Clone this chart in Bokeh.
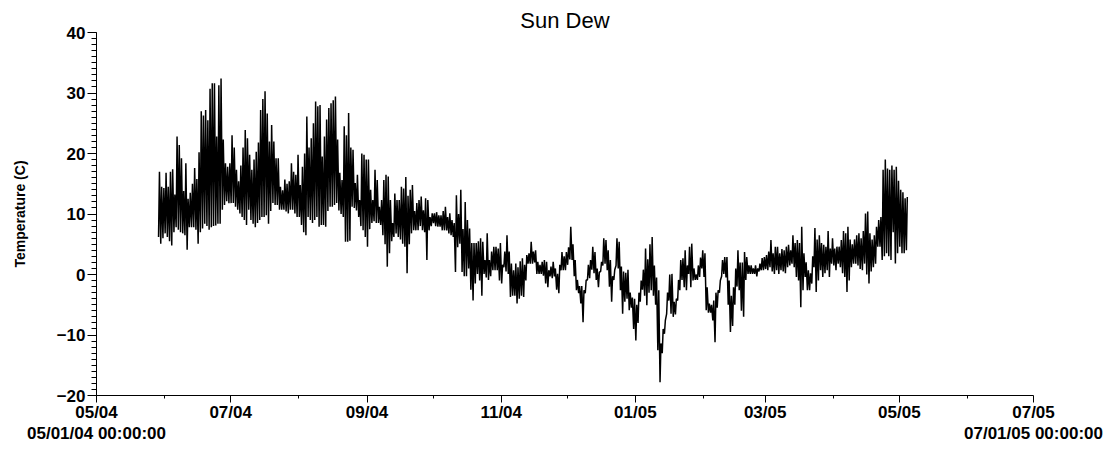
import datetime as dt
from bokeh.plotting import figure
from bokeh.models import (FixedTicker, SingleIntervalTicker, DatetimeAxis,
                          Range1d, ColumnDataSource)
from bokeh.embed import file_html
from bokeh.resources import INLINE

TITLE = "Sun Dew"
Y_LABEL = "Temperature (C)"

# Daily high / low dew-point readings (deg C)
hi_may04 = [17.0, 14.5, 14.3]
lo_may04 = [6.2, 5.1, 6.0]
hi_jun04 = [16.8, 14.5, 17.0, 17.4, 13.2, 22.8, 21.4, 19.2, 13.8, 18.4, 12.5, 13.5, 15.0, 17.6, 15.8,
            20.2, 27.0, 26.3, 27.2, 25.5, 30.7, 31.6, 31.6, 22.8, 31.3, 32.4, 22.3, 18.4, 17.8, 18.4]
lo_jun04 = [6.8, 6.2, 5.5, 4.8, 7.0, 7.8, 7.4, 7.0, 6.8, 6.5, 4.1, 7.8, 7.8, 7.8, 7.4,
            5.1, 7.0, 7.6, 8.4, 8.0, 7.4, 7.8, 8.0, 8.1, 8.4, 8.4, 10.7, 11.5, 12.1, 11.8]
hi_jul04 = [23.0, 21.0, 17.3, 15.4, 18.0, 21.0, 23.9, 22.5, 19.8, 17.3, 19.0, 20.3, 21.8, 27.2, 29.0, 30.3,
            26.6, 22.0, 24.7, 22.0, 19.2, 19.2, 14.5, 13.9, 15.7, 15.0, 15.4, 18.4, 17.0, 16.5, 19.8]
lo_jul04 = [11.8, 11.8, 11.2, 10.7, 10.1, 9.5, 9.0, 8.2, 10.7, 9.0, 8.4, 7.8, 8.5, 9.0, 9.5, 9.5,
            9.8, 8.4, 10.5, 11.8, 11.5, 11.5, 10.7, 10.7, 10.7, 10.4, 10.1, 10.7, 10.7, 10.1, 9.5]
hi_aug04 = [14.8, 17.8, 20.0, 26.1, 21.0, 22.5, 25.0, 28.6, 27.8, 28.0, 19.5, 22.8, 25.6, 27.5, 28.3, 28.8,
            29.4, 22.3, 16.8, 15.6, 24.5, 23.0, 26.7, 21.0, 20.6, 15.1, 16.5, 12.3, 20.0, 19.8, 19.0]
lo_aug04 = [9.5, 8.2, 7.0, 6.5, 9.5, 9.0, 8.5, 9.0, 9.5, 7.9, 8.2, 8.2, 7.9, 10.5, 11.2, 11.2,
            11.5, 11.8, 10.6, 10.0, 9.5, 5.4, 5.4, 5.6, 11.2, 11.0, 10.6, 9.5, 8.0, 7.3, 6.2]
hi_sep04 = [19.0, 14.0, 12.3, 17.3, 15.6, 11.2, 12.3, 15.6, 16.5, 16.2, 12.3, 8.5, 13.4, 12.3, 12.3,
            14.5, 14.2, 16.1, 13.0, 14.0, 14.8, 10.5, 11.8, 12.3, 12.9, 10.6, 12.6, 12.3, 9.5, 10.1]
lo_sep04 = [4.6, 7.5, 8.5, 8.8, 8.5, 8.5, 8.2, 6.5, 5.0, 1.3, 3.5, 5.5, 6.2, 6.8, 6.2,
            5.8, 5.1, 4.6, 0.2, 5.0, 6.8, 7.3, 7.3, 7.3, 8.0, 7.3, 7.0, 2.4, 7.3, 8.0]
hi_oct04 = [10.1, 10.3, 9.8, 9.8, 10.5, 11.2, 9.5, 10.1, 9.0, 8.5, 13.1, 10.0, 14.0, 7.5, 12.0, 9.0,
            7.6, 5.2, 5.2, 5.2, 5.5, 6.0, 5.4, 2.4, 6.8, 2.4, 3.8, 4.6, 4.6, 4.3, 5.2]
lo_oct04 = [8.5, 8.0, 7.9, 7.9, 7.3, 7.3, 7.3, 6.8, 6.5, 6.2, 0.4, 4.5, 5.1, 0.4, -0.3, -0.3,
            1.0, -2.5, -4.3, -1.5, 0.1, -1.0, -3.5, 0.1, -0.5, -0.9, -0.3, 0.7, 0.7, 0.7, -1.0]
hi_nov04 = [1.6, 3.8, 6.5, 3.8, 1.8, 0.7, 1.8, 1.2, 2.2, 2.7, 1.6, 3.2, 3.5, 5.4, 3.8,
            4.0, 2.1, 1.6, 2.1, 2.4, 2.1, 0.7, 1.3, 2.1, 1.0, 0.1, 1.6, 3.7, 3.0, 3.7]
lo_nov04 = [-1.5, 1.2, 0.5, 0.1, -3.7, -3.5, -3.5, -4.8, -4.0, -3.5, -3.7, -1.0, 1.8, 1.8, 1.8,
            2.0, 0.1, 0.1, 0.1, -0.2, -1.5, -2.1, -0.3, -0.6, -0.3, -2.5, -3.1, 0.7, 0.7, 0.7]
hi_dec04 = [4.5, 7.9, 5.0, 2.4, -0.9, -1.9, -1.9, -2.6, -0.9, 1.6, 2.4, 4.6, 3.7, 1.0, 0.4, 2.1,
            6.0, 5.7, 4.0, 2.4, -0.3, 0.8, 6.0, 5.4, 1.3, 0.5, 0.3, 0.8, -3.0, -3.8, -4.0]
lo_dec04 = [1.6, 2.5, 2.4, -0.3, -2.6, -3.1, -4.8, -7.9, -3.1, -0.9, -0.6, 0.8, 0.2, -0.9, -2.1, 0.5,
            1.5, 1.8, 0.7, -2.0, -4.5, -0.9, 1.5, 1.0, -2.6, -6.5, -4.5, -4.0, -5.9, -5.5, -9.0]
hi_jan05 = [-5.0, -3.0, -1.0, 0.8, 4.3, 2.5, 5.0, 6.2, 1.5, -0.5, -2.6, -11.4, -9.0, -7.6, -3.0, 0.0,
            0.1, -4.5, -4.0, -0.9, 2.4, 2.7, 4.0, 1.5, 4.6, 5.1, 1.0, 0.0, 1.5, 2.8, 4.0]
lo_jan05 = [-10.9, -8.0, -4.5, -2.5, -3.5, -5.1, -3.0, -2.6, -3.5, -5.0, -12.5, -17.8, -13.0, -9.8, -6.5, -4.3,
            -6.5, -7.0, -6.6, -4.3, -2.6, -0.9, -2.1, -2.6, 0.1, -2.1, -1.0, -0.9, -0.9, -0.4, 1.0]
hi_feb05 = [3.5, -2.1, -4.8, -5.0, -4.3, -3.0, -2.6, -1.0, 2.4, 2.9, 2.9, -1.0, -3.5, -2.1,
            1.0, 4.0, 2.0, 2.0, 3.7, 2.9, 1.5, 1.5, 1.0, 1.5, 1.0, 1.8, 2.7, 2.9]
lo_feb05 = [-0.4, -5.9, -6.3, -6.3, -7.6, -11.2, -5.5, -3.0, -0.3, 0.1, -0.5, -5.0, -9.5, -8.5,
            -5.0, -2.0, -2.6, -6.0, -7.0, -0.9, 0.1, 0.1, 0.1, 0.1, -0.3, 0.5, 0.7, 0.7]
hi_mar05 = [3.2, 3.8, 5.7, 3.5, 4.6, 4.6, 3.5, 4.2, 4.0, 4.6, 4.9, 4.0, 6.5, 5.2, 5.7, 5.2,
            7.9, 3.5, 2.0, 0.7, 0.2, 3.0, 7.7, 5.8, 6.5, 5.2, 4.9, 4.6, 7.2, 4.3, 6.0]
lo_mar05 = [0.9, 0.7, 1.2, 0.5, 0.1, 0.7, 0.1, 0.7, 0.5, 0.2, 1.2, 1.5, 1.8, 1.2, -0.4, -1.0,
            -5.4, -2.6, -0.4, -2.6, -2.6, -1.5, 1.2, -2.9, -1.0, 0.7, -0.4, 0.2, 0.7, -0.4, 1.8]
hi_apr05 = [4.3, 4.6, 4.6, 5.7, 7.2, 6.8, 7.9, 5.8, 5.0, 5.8, 6.5, 6.8, 6.0, 7.2, 10.1,
            10.4, 6.8, 5.8, 6.5, 7.9, 9.0, 9.5, 17.3, 19.0, 17.5, 17.3, 18.0, 17.3, 17.8, 15.5]
lo_apr05 = [1.5, 0.7, 1.8, 1.2, 0.2, -0.4, -2.9, -1.0, 1.2, 1.8, 1.8, 1.5, 0.9, 0.7, 1.8,
            0.0, -1.5, 0.5, 1.2, 1.8, 4.6, 4.6, 2.4, 3.0, 3.5, 3.0, 2.4, 7.0, 1.8, 3.5]
hi_may05 = [14.0, 13.6, 12.6, 12.8]
lo_may05 = [4.6, 3.5, 3.5, 4.0]

# first day covered by each month's lists
month_starts = [dt.datetime(2004, 5, 29), dt.datetime(2004, 6, 1), dt.datetime(2004, 7, 1),
                dt.datetime(2004, 8, 1), dt.datetime(2004, 9, 1), dt.datetime(2004, 10, 1),
                dt.datetime(2004, 11, 1), dt.datetime(2004, 12, 1), dt.datetime(2005, 1, 1),
                dt.datetime(2005, 2, 1), dt.datetime(2005, 3, 1), dt.datetime(2005, 4, 1),
                dt.datetime(2005, 5, 1)]
month_highs = [hi_may04, hi_jun04, hi_jul04, hi_aug04, hi_sep04, hi_oct04, hi_nov04,
               hi_dec04, hi_jan05, hi_feb05, hi_mar05, hi_apr05, hi_may05]
month_lows = [lo_may04, lo_jun04, lo_jul04, lo_aug04, lo_sep04, lo_oct04, lo_nov04,
              lo_dec04, lo_jan05, lo_feb05, lo_mar05, lo_apr05, lo_may05]

# axis ticks
major_tick_dates = [dt.datetime(2004, 5, 1), dt.datetime(2004, 7, 1), dt.datetime(2004, 9, 1),
                    dt.datetime(2004, 11, 1), dt.datetime(2005, 1, 1), dt.datetime(2005, 3, 1),
                    dt.datetime(2005, 5, 1), dt.datetime(2005, 7, 1)]
major_tick_labels = ["05/04", "07/04", "09/04", "11/04", "01/05", "03/05", "05/05", "07/05"]
minor_tick_dates = [dt.datetime(2004, 6, 1), dt.datetime(2004, 8, 1), dt.datetime(2004, 10, 1),
                    dt.datetime(2004, 12, 1), dt.datetime(2005, 2, 1), dt.datetime(2005, 4, 1),
                    dt.datetime(2005, 6, 1)]
end_tick_labels = ["05/01/04 00:00:00", "07/01/05 00:00:00"]

# low in early morning, high in afternoon, for each day
LOW_HOUR, HIGH_HOUR = 5, 15
times, temps = [], []
for start, his, los in zip(month_starts, month_highs, month_lows):
    for i, (h, l) in enumerate(zip(his, los)):
        day = start + dt.timedelta(days=i)
        times.append(day + dt.timedelta(hours=LOW_HOUR))
        temps.append(l)
        times.append(day + dt.timedelta(hours=HIGH_HOUR))
        temps.append(h)

src = ColumnDataSource(dict(t=times, v=temps))

EPOCH = dt.datetime(1970, 1, 1)
def ms(d):
    return float((d - EPOCH).total_seconds() * 1000.0)

FONT = "Liberation Sans"

p = figure(frame_width=937, frame_height=363,
           x_axis_type="datetime",
           x_range=Range1d(major_tick_dates[0], major_tick_dates[-1]),
           y_range=Range1d(-20, 40),
           output_backend="svg", toolbar_location=None,
           min_border_left=96, min_border_right=72, min_border_top=32,
           min_border_bottom=0, title=TITLE)
p.outline_line_color = None
p.grid.visible = False
p.background_fill_color = "white"
p.border_fill_color = "white"

p.title.text_font = FONT
p.title.text_font_size = "22px"
p.title.text_font_style = "normal"
p.title.align = "center"
p.title.text_color = "black"
p.title.standoff = 0

p.line("t", "v", source=src, line_color="black", line_width=1.5)

# y axis
ya = p.yaxis[0]
ya.ticker = SingleIntervalTicker(interval=10, num_minor_ticks=10)
ya.axis_label = Y_LABEL
ya.axis_label_text_font = FONT
ya.axis_label_text_font_size = "14px"
ya.axis_label_text_font_style = "bold"
ya.axis_label_text_color = "black"
ya.axis_label_standoff = 26
ya.major_label_text_font = FONT
ya.major_label_text_font_size = "17px"
ya.major_label_text_font_style = "bold"
ya.major_label_text_color = "black"
ya.major_label_standoff = 2
ya.axis_line_color = "black"
ya.major_tick_line_color = "black"
ya.minor_tick_line_color = "black"
ya.major_tick_out = 9
ya.major_tick_in = 0
ya.minor_tick_out = 5
ya.minor_tick_in = 0

# x axis
xa = p.xaxis[0]
xa.ticker = FixedTicker(ticks=[ms(d) for d in major_tick_dates],
                        minor_ticks=[ms(d) for d in minor_tick_dates])
xa.major_label_overrides = {ms(d): lab for d, lab in zip(major_tick_dates, major_tick_labels)}
xa.major_label_text_font = FONT
xa.major_label_text_font_size = "17px"
xa.major_label_text_font_style = "bold"
xa.major_label_text_color = "black"
xa.major_label_standoff = 0
xa.axis_line_color = "black"
xa.major_tick_line_color = "black"
xa.minor_tick_line_color = "black"
xa.major_tick_out = 7
xa.major_tick_in = 0
xa.minor_tick_out = 3
xa.minor_tick_in = 0

# second row of x labels (full date-time at both ends)
end_dates = [major_tick_dates[0], major_tick_dates[-1]]
xa2 = DatetimeAxis(ticker=FixedTicker(ticks=[ms(d) for d in end_dates], minor_ticks=[]))
xa2.major_label_overrides = {ms(d): lab for d, lab in zip(end_dates, end_tick_labels)}
xa2.major_label_text_font = FONT
xa2.major_label_text_font_size = "17px"
xa2.major_label_text_font_style = "bold"
xa2.major_label_text_color = "black"
xa2.major_label_standoff = -1
xa2.axis_line_color = None
xa2.major_tick_line_color = None
xa2.minor_tick_line_color = None
xa2.major_tick_out = 0
xa2.major_tick_in = 0
xa2.minor_tick_out = 0
xa2.minor_tick_in = 0
p.add_layout(xa2, "below")

open("out.html", "w").write(file_html(p, INLINE))
